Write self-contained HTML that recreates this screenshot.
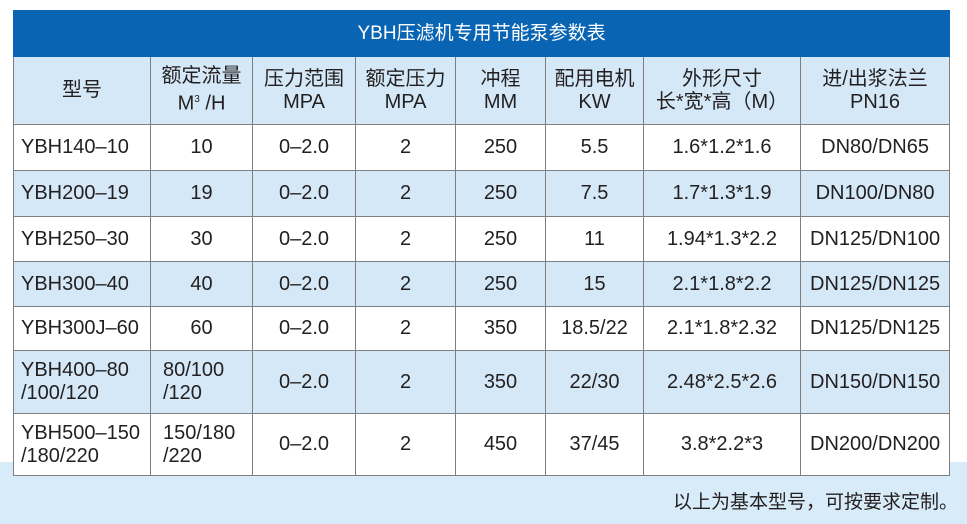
<!DOCTYPE html>
<html><head><meta charset="utf-8"><style>
body{margin:0;width:967px;height:524px;background:#fff;position:relative;overflow:hidden;font-family:"Liberation Sans","Noto Sans CJK SC",sans-serif;color:#231f20}
.band{position:absolute;left:0;top:462px;width:967px;height:62px;background:#d8ebf8}
table{position:absolute;left:13px;top:10px;border-collapse:collapse;width:936px;table-layout:fixed}
td{border:1px solid #7f7f7f;text-align:center;font-size:20px;line-height:23px;padding:0}
.t td{background:#0a64b4;color:#fff;height:45px;font-size:19px;border-color:#0a64b4}
.h td{background:#d4e8f7;height:67px;font-size:20px}
.b td{background:#d4e8f7}
.w td{background:#fff}
td.l{text-align:left;padding-left:7px}
.cap{position:absolute;right:9px;top:487px;font-size:19px}
</style></head><body>
<div class="band"></div>
<table>
<colgroup><col style="width:137px"><col style="width:102px"><col style="width:103px"><col style="width:100px"><col style="width:90px"><col style="width:98px"><col style="width:157px"><col style="width:149px"></colgroup>
<tr class="t"><td colspan="8">YBH压滤机专用节能泵参数表</td></tr>
<tr class="h"><td>型号</td><td>额定流量<br>M<sup style="font-size:10px">3</sup> /H</td><td>压力范围<br>MPA</td><td>额定压力<br>MPA</td><td>冲程<br>MM</td><td>配用电机<br>KW</td><td>外形尺寸<br>长*宽*高（M）</td><td>进/出浆法兰<br>PN16</td></tr>
<tr class="w" style="height:46px"><td class="l">YBH140–10</td><td>10</td><td>0–2.0</td><td>2</td><td>250</td><td>5.5</td><td>1.6*1.2*1.6</td><td>DN80/DN65</td></tr>
<tr class="b" style="height:46px"><td class="l">YBH200–19</td><td>19</td><td>0–2.0</td><td>2</td><td>250</td><td>7.5</td><td>1.7*1.3*1.9</td><td>DN100/DN80</td></tr>
<tr class="w" style="height:45px"><td class="l">YBH250–30</td><td>30</td><td>0–2.0</td><td>2</td><td>250</td><td>11</td><td>1.94*1.3*2.2</td><td>DN125/DN100</td></tr>
<tr class="b" style="height:45px"><td class="l">YBH300–40</td><td>40</td><td>0–2.0</td><td>2</td><td>250</td><td>15</td><td>2.1*1.8*2.2</td><td>DN125/DN125</td></tr>
<tr class="w" style="height:44px"><td class="l">YBH300J–60</td><td>60</td><td>0–2.0</td><td>2</td><td>350</td><td>18.5/22</td><td>2.1*1.8*2.32</td><td>DN125/DN125</td></tr>
<tr class="b" style="height:63px"><td class="l">YBH400–80<br>/100/120</td><td class="l" style="padding-left:12px">80/100<br>/120</td><td>0–2.0</td><td>2</td><td>350</td><td>22/30</td><td>2.48*2.5*2.6</td><td>DN150/DN150</td></tr>
<tr class="w" style="height:62px"><td class="l">YBH500–150<br>/180/220</td><td class="l" style="padding-left:12px">150/180<br>/220</td><td>0–2.0</td><td>2</td><td>450</td><td>37/45</td><td>3.8*2.2*3</td><td>DN200/DN200</td></tr>
</table>
<div class="cap">以上为基本型号，可按要求定制。</div>
</body></html>
